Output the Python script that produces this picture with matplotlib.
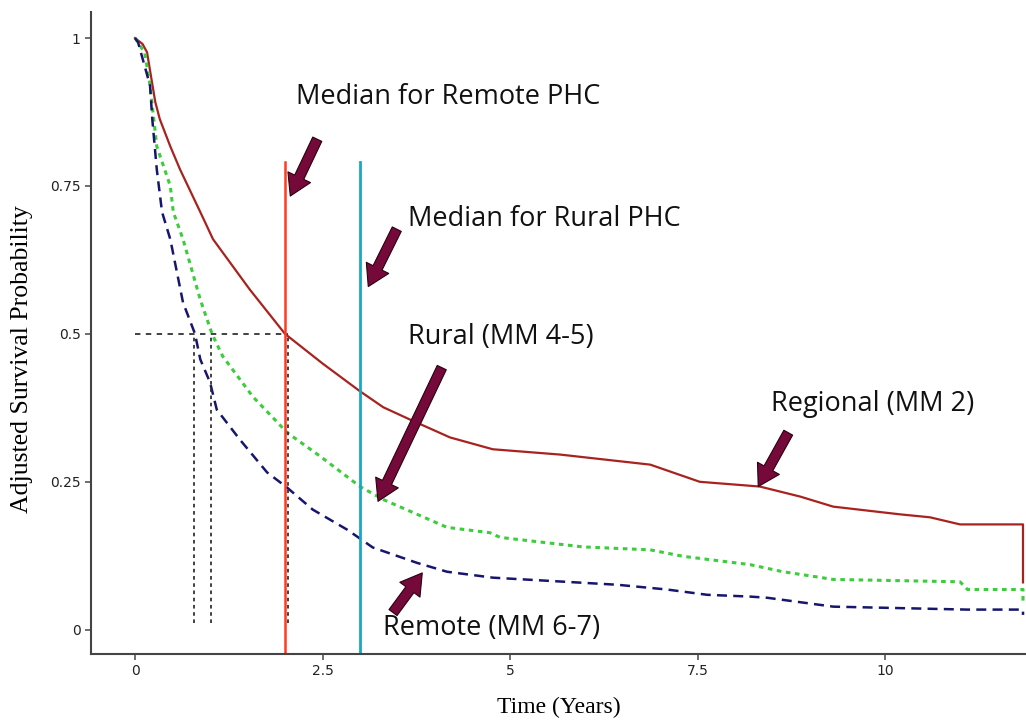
import matplotlib.pyplot as plt

# Regional (MM 2)
reg_t = [0, 0.1, 0.16, 0.22, 0.27, 0.33, 0.47, 0.6, 0.87, 1.04, 1.53, 2.0, 2.5, 3.0, 3.31, 3.67, 4.2,
         4.77, 5.67, 6.87, 7.53, 8.33, 8.87, 9.31, 10.2, 10.6, 11.0, 11.84, 11.84]
reg_s = [1, 0.99, 0.976, 0.93, 0.892, 0.863, 0.817, 0.778, 0.706, 0.66, 0.575, 0.5, 0.45, 0.403, 0.376,
         0.355, 0.325, 0.305, 0.296, 0.279, 0.25, 0.242, 0.225, 0.208, 0.195, 0.19, 0.178, 0.178, 0.08]
# Rural (MM 4-5)
rur_t = [0, 0.13, 0.2, 0.29, 0.47, 0.51, 0.64, 0.87, 1.03, 1.17, 1.57, 2.03, 2.47, 3.0, 3.31,
         4.16, 4.73, 4.87, 5.97, 6.87, 7.31, 8.2, 8.64, 9.31, 11.0, 11.1, 11.84, 11.84]
rur_s = [1, 0.975, 0.92, 0.817, 0.75, 0.706, 0.66, 0.558, 0.499, 0.462, 0.394, 0.333, 0.293, 0.242,
         0.22, 0.173, 0.164, 0.156, 0.14, 0.135, 0.124, 0.11, 0.098, 0.085, 0.081, 0.068, 0.068, 0.047]
# Remote (MM 6-7)
rem_t = [0, 0.04, 0.2, 0.23, 0.29, 0.36, 0.47, 0.64, 0.8, 0.87, 1.0, 1.09, 1.4, 1.76, 2.03, 2.37, 2.83,
         3.17, 3.76, 4.16, 4.77, 6.43, 7.09, 7.63, 8.2, 8.43, 9.31, 11.1, 11.84, 11.84]
rem_s = [1, 0.993, 0.92, 0.863, 0.778, 0.706, 0.66, 0.553, 0.5, 0.457, 0.418, 0.372, 0.321, 0.266, 0.24,
         0.203, 0.169, 0.139, 0.113, 0.098, 0.088, 0.076, 0.068, 0.059, 0.056, 0.054, 0.039, 0.034,
         0.034, 0.025]

medians = [0.79, 1.01, 2.04]        # remote, rural, regional medians
median_remote_phc = 2.0
median_rural_phc = 3.0

xticks = [0, 2.5, 5, 7.5, 10]
xticklabels = ['0', '2.5', '5', '7.5', '10']
yticks = [0, 0.25, 0.5, 0.75, 1]
yticklabels = ['0', '0.25', '0.5', '0.75', '1']

labels = ['Median for Remote PHC', 'Median for Rural PHC', 'Rural (MM 4-5)',
          'Regional (MM 2)', 'Remote (MM 6-7)']
label_xy = [(2.15, 0.90), (3.64, 0.694), (3.64, 0.494), (8.48, 0.381), (3.31, 0.003)]
arrow_tail = [(2.43, 0.829), (3.49, 0.677), (4.09, 0.443), (8.71, 0.333), (3.44, 0.029)]
arrow_head = [(2.07, 0.733), (3.11, 0.58), (3.24, 0.217), (8.31, 0.242), (3.83, 0.096)]

fig = plt.figure(figsize=(10.26, 7.2), dpi=100)
ax = fig.add_axes([0.0887, 0.0917, 0.9113, 0.8916])

ax.plot(reg_t, reg_s, color='#a8231f', lw=1.6)
ax.plot(rur_t, rur_s, color='#3ccc3c', lw=2.2, linestyle=(0, (1.5, 1.5)))
ax.plot(rem_t, rem_s, color='#16166e', lw=1.8, linestyle=(0, (4, 2.5)))

# median reference lines
ax.plot([0, medians[2]], [0.5, 0.5], color='#333333', lw=1.3, linestyle=(0, (3, 3)))
for m in medians:
    ax.plot([m, m], [0.012, 0.5], color='#333333', lw=1.3, linestyle=(0, (2, 2)))

ax.plot([median_remote_phc, median_remote_phc], [-0.05, 0.79], color='#ff3b1f', lw=1.8)
ax.plot([median_rural_phc, median_rural_phc], [-0.05, 0.79], color='#17a9c4', lw=2.0)

for (tx, ty), (hx, hy) in zip(arrow_tail, arrow_head):
    ax.annotate('', xy=(hx, hy), xytext=(tx, ty),
                arrowprops=dict(arrowstyle='simple,head_length=1.25,head_width=1.5,tail_width=0.6',
                                mutation_scale=12, fc='#75093a', ec='#2a0010', lw=0.8,
                                shrinkA=0, shrinkB=0))

for txt, (x, y) in zip(labels, label_xy):
    ax.text(x, y, txt, fontsize=19.5, family='Open Sans', color='#111111', va='center', ha='left')

ax.set_xlim(-0.587, 11.88)
ax.set_ylim(-0.041, 1.044)
ax.set_xticks(xticks)
ax.set_xticklabels(xticklabels)
ax.set_yticks(yticks)
ax.set_yticklabels(yticklabels)
ax.tick_params(colors='#555555', labelsize=10, length=4, width=1.2, labelcolor='#222222')
for s in ['top', 'right']:
    ax.spines[s].set_visible(False)
for s in ['left', 'bottom']:
    ax.spines[s].set_color('#444444')
    ax.spines[s].set_linewidth(1.5)

ax.set_xlabel('Time (Years)', family='Liberation Serif', fontsize=17, labelpad=13)
ax.set_ylabel('Adjusted Survival Probability', family='Liberation Serif', fontsize=18.5)
ax.yaxis.set_label_coords(-0.062, 0.46)

fig.savefig('out.png', dpi=100)
